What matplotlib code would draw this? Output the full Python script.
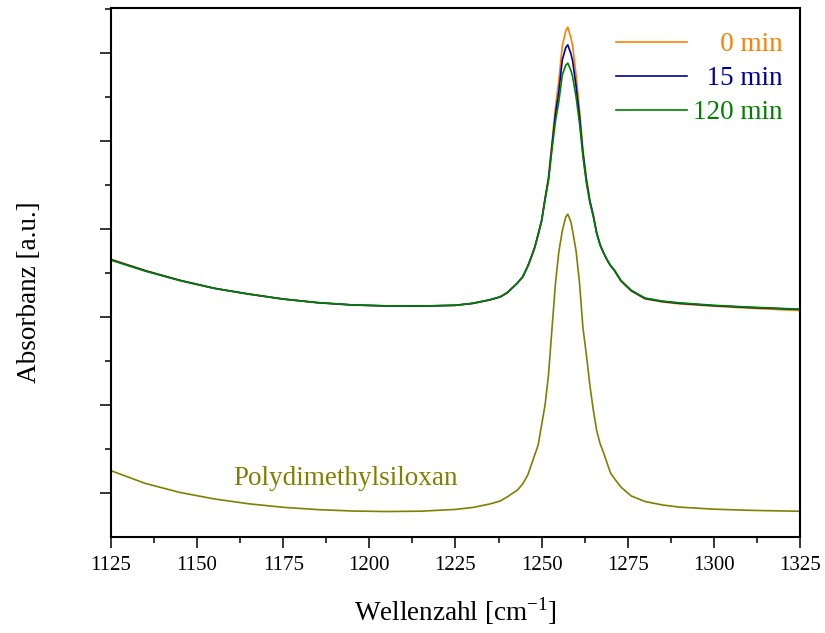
import numpy as np
import matplotlib.pyplot as plt
from matplotlib.ticker import MultipleLocator

# Wellenzahl [cm-1]
wavenumber = [1125, 1135, 1145, 1155, 1165, 1175, 1185, 1195, 1205, 1215,
              1225, 1230, 1235, 1238, 1240, 1243, 1244.5, 1246, 1247, 1248,
              1249, 1250, 1251, 1252, 1253, 1254, 1255, 1256, 1257, 1257.6,
              1258.5, 1259, 1260, 1261, 1262, 1263, 1264, 1265, 1266, 1267,
              1268, 1269, 1270, 1271, 1273, 1276, 1280, 1285, 1290, 1300,
              1310, 1325]

# Absorbanz (a.u., gegeneinander verschoben)
abs_0min = [3.156, 3.028, 2.917, 2.826, 2.760, 2.702, 2.661, 2.635, 2.624, 2.622,
            2.631, 2.653, 2.693, 2.727, 2.773, 2.886, 2.955, 3.080, 3.182, 3.295,
            3.443, 3.602, 3.852, 4.091, 4.480, 4.875, 5.193, 5.580, 5.750, 5.792,
            5.670, 5.580, 5.250, 4.852, 4.398, 4.080, 3.830, 3.660, 3.455, 3.318,
            3.227, 3.148, 3.080, 3.034, 2.909, 2.795, 2.705, 2.670, 2.648, 2.622,
            2.600, 2.572]
abs_15min = [3.150, 3.024, 2.915, 2.825, 2.760, 2.703, 2.662, 2.636, 2.625, 2.623,
             2.632, 2.654, 2.694, 2.728, 2.774, 2.886, 2.955, 3.078, 3.180, 3.290,
             3.438, 3.593, 3.840, 4.070, 4.440, 4.800, 5.060, 5.420, 5.560, 5.591,
             5.490, 5.410, 5.120, 4.780, 4.360, 4.050, 3.815, 3.650, 3.450, 3.316,
             3.226, 3.149, 3.082, 3.037, 2.912, 2.799, 2.710, 2.676, 2.655, 2.628,
             2.608, 2.585]
abs_120min = [3.145, 3.020, 2.913, 2.824, 2.759, 2.703, 2.663, 2.637, 2.626, 2.624,
              2.633, 2.655, 2.695, 2.729, 2.775, 2.886, 2.954, 3.075, 3.178, 3.285,
              3.433, 3.585, 3.830, 4.050, 4.400, 4.720, 4.950, 5.250, 5.360, 5.383,
              5.300, 5.230, 5.000, 4.700, 4.320, 4.020, 3.800, 3.640, 3.445, 3.314,
              3.225, 3.150, 3.084, 3.040, 2.915, 2.803, 2.715, 2.680, 2.660, 2.632,
              2.612, 2.588]
abs_pdms = [0.753, 0.608, 0.506, 0.432, 0.377, 0.337, 0.311, 0.295, 0.289, 0.293,
            0.313, 0.335, 0.375, 0.409, 0.455, 0.534, 0.602, 0.705, 0.818, 0.932,
            1.045, 1.273, 1.500, 1.841, 2.360, 2.875, 3.239, 3.477, 3.636, 3.667,
            3.580, 3.477, 3.250, 2.886, 2.375, 2.068, 1.727, 1.443, 1.205, 1.057,
            0.955, 0.840, 0.727, 0.670, 0.568, 0.466, 0.403, 0.364, 0.339, 0.316,
            0.303, 0.292]

labels = ["0 min", "15 min", "120 min"]
colors = ["#FF8000", "#0000A0", "#008000"]
pdms_color = "#808000"

if __name__ == "__main__":
    fam = ["Liberation Serif", "DejaVu Serif"]
    plt.rcParams['font.family'] = fam
    plt.rcParams['mathtext.fontset'] = 'custom'
    plt.rcParams['mathtext.rm'] = 'Liberation Serif'
    big = 19.5

    fig = plt.figure(figsize=(8.25, 6.33), dpi=100)
    ax = fig.add_axes([0.1345, 0.1517, 0.8352, 0.8357])

    series = [abs_0min, abs_15min, abs_120min]
    # gleiche Laenge der Labels durch Ziffernleerzeichen -> rechtsbuendig
    pad = max(len(l) for l in labels)
    for i in range(len(series)):
        lab = "\u2007" * (pad - len(labels[i])) + labels[i]
        ax.plot(wavenumber, series[i], color=colors[i], lw=1.2, label=lab)
    ax.plot(wavenumber, abs_pdms, color=pdms_color, lw=1.2)

    ax.text(1193, 0.665, "Polydimethylsiloxan", color=pdms_color, fontsize=big,
            ha="center", va="center")

    leg = ax.legend(loc="upper right", bbox_to_anchor=(0.9753, 0.954), frameon=False,
                    fontsize=big, handlelength=2.6, handletextpad=0.25,
                    labelspacing=0.33, borderpad=0, borderaxespad=0)
    for txt, c in zip(leg.get_texts(), colors):
        txt.set_color(c)

    ax.set_xlim(1125, 1325)
    ax.set_ylim(0, 6.01)
    ax.xaxis.set_major_locator(MultipleLocator(25))
    ax.xaxis.set_minor_locator(MultipleLocator(12.5))
    ax.set_yticks([0.5, 1.5, 2.5, 3.5, 4.5, 5.5])
    ax.set_yticks([1, 2, 3, 4, 5, 6], minor=True)
    ax.set_yticklabels([])
    ax.tick_params(which="major", direction="out", length=8, width=1.1,
                   labelsize=15, pad=6)
    ax.tick_params(which="minor", direction="out", length=4.3, width=1.1)
    for sp in ax.spines.values():
        sp.set_linewidth(1.5)

    ax.set_xlabel("Wellenzahl [cm$^{\\mathregular{-1}}$]", fontsize=big, labelpad=14)
    ax.set_ylabel("Absorbanz [a.u.]", fontsize=big)
    ax.yaxis.set_label_coords(-0.100, 0.463)

    plt.savefig("out.png", dpi=100)
